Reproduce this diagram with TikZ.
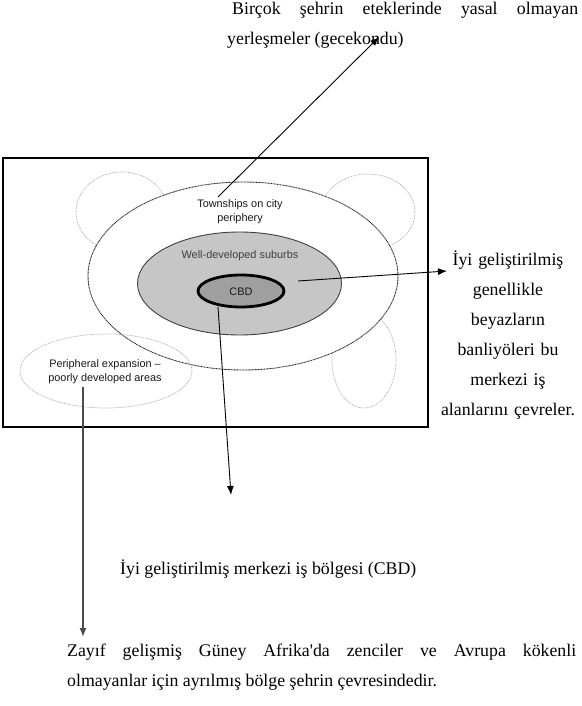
\documentclass[tikz,border=0pt]{standalone}
\usepackage{fontspec}
\setmainfont{Liberation Serif}
\newfontfamily\diagsans{Liberation Sans}
\usetikzlibrary{shapes.geometric,arrows.meta}
\begin{document}
\begin{tikzpicture}[x=1bp,y=-1bp,
  bodytext/.style={font=\fontsize{17.8bp}{30bp}\selectfont, inner sep=0pt, text=black},
  labeltext/.style={font=\diagsans\fontsize{10.9bp}{14bp}\selectfont, inner sep=0pt, text=black!90, align=center},
  bubble/.style={ellipse, draw=gray!65, line width=0.7bp, dash pattern=on 0.8bp off 0.8bp, fill=white, inner sep=0pt},
  townring/.style={ellipse, draw=gray!30!black, line width=0.9bp, dash pattern=on 0.9bp off 0.6bp, fill=white, inner sep=0pt},
  suburbring/.style={ellipse, draw=gray!50!black, line width=0.9bp, fill=gray!45, inner sep=0pt},
  cbdring/.style={ellipse, draw=black, line width=2.8bp, fill=gray!75, inner sep=0pt},
  arrowline/.style={draw=black, line width=0.9bp, -{Latex[length=9bp,width=7bp]}},
]
\useasboundingbox (0,0) rectangle (582,706);
\fill[white] (0,0) rectangle (582,706);

% frame
\draw[line width=1.3bp, fill=white] (3,158) rectangle (428,427);
\draw[line width=2.6bp] (2,427) -- (429,427);

% bubbles around the townships
\node[bubble, minimum width=92bp, minimum height=80bp] (bubbleTL) at (122,212) {};
\node[bubble, minimum width=94bp, minimum height=76bp] (bubbleTR) at (368,212) {};
\node[bubble, minimum width=64bp, minimum height=96bp] (bubbleBR) at (364,360) {};

% main rings
\node[townring, minimum width=310bp, minimum height=188bp] (townships) at (243,276) {};
\node[bubble, fill=none, minimum width=172bp, minimum height=74bp] (periph) at (106,371) {};
\node[suburbring, minimum width=204bp, minimum height=103bp] (suburbs) at (239.5,283.5) {};
\node[cbdring, minimum width=86bp, minimum height=32bp] (cbd) at (241,291) {};

% diagram labels
\node[labeltext] (townlabel) at (240,212) {Townships on city\\periphery};
\node[labeltext, text=black!75] (suburblabel) at (240,256) {Well-developed suburbs};
\node[labeltext] (cbdlabel) at (241,292) {CBD};
\node[labeltext] (periphlabel) at (105,372) {Peripheral expansion –\\poorly developed areas};

% notes
\node[bodytext, text width=351bp, align=justify, anchor=base west] (topnote) at (227,15)
  {\hspace*{5bp}Birçok şehrin eteklerinde yasal olmayan\linebreak yerleşmeler (gecekondu)};
\node[bodytext, text width=170bp, align=center, anchor=base] (suburbnote) at (508,265)
  {İyi geliştirilmiş\\genellikle\\beyazların\\banliyöleri bu\\merkezi iş\\alanlarını çevreler.};
\node[bodytext, anchor=base west] (cbdnote) at (120,574)
  {İyi geliştirilmiş merkezi iş bölgesi (CBD)};
\node[bodytext, text width=509bp, align=justify, anchor=base west] (periphnote) at (67,656)
  {Zayıf gelişmiş Güney Afrika\textquotesingle da zenciler ve Avrupa kökenli\linebreak olmayanlar için ayrılmış bölge şehrin çevresindedir.};

% connector ends
\coordinate (townStart) at (218,197);
\coordinate (townTip) at (379,37);
\coordinate (suburbStart) at (298,281);
\coordinate (suburbTip) at (447,271);
\coordinate (cbdStart) at (218,307);
\coordinate (cbdTip) at (231,495);
\coordinate (periphStart) at (83,387);
\coordinate (periphTip) at (83,637);

\draw[arrowline] (townStart) -- (townTip);
\draw[arrowline] (suburbStart) -- (suburbTip);
\draw[arrowline] (cbdStart) -- (cbdTip);
\draw[arrowline, draw=black!70, line width=1.3bp] (periphStart) -- (periphTip);
\end{tikzpicture}
\end{document}
